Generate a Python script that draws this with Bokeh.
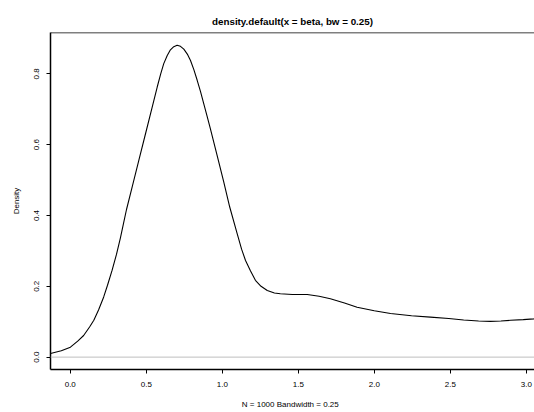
from bokeh.plotting import figure
from bokeh.models import Range1d, FixedTicker, Span
from bokeh.embed import file_html
from bokeh.resources import INLINE

# Density estimate (x, density)
density_x = [-0.130, -0.059, 0.001, 0.049, 0.088, 0.127, 0.155, 0.186, 0.220, 0.245,
             0.275, 0.304, 0.330, 0.350, 0.370, 0.407, 0.451, 0.495, 0.539, 0.572,
             0.595, 0.615, 0.638, 0.659, 0.681, 0.703, 0.725, 0.747, 0.770, 0.791,
             0.813, 0.835, 0.857, 0.878, 0.900, 0.922, 0.966, 1.010, 1.049, 1.098,
             1.127, 1.153, 1.186, 1.218, 1.255, 1.296, 1.343, 1.382, 1.461, 1.559,
             1.637, 1.711, 1.804, 1.887, 2.000, 2.107, 2.245, 2.369, 2.490, 2.588,
             2.686, 2.764, 2.833, 2.896, 2.980, 3.049, 3.070]
density_y = [0.010, 0.018, 0.028, 0.045, 0.061, 0.085, 0.104, 0.133, 0.170, 0.203,
             0.245, 0.290, 0.337, 0.377, 0.417, 0.480, 0.556, 0.631, 0.706, 0.763,
             0.800, 0.829, 0.852, 0.868, 0.877, 0.881, 0.878, 0.870, 0.856, 0.838,
             0.812, 0.782, 0.750, 0.716, 0.681, 0.645, 0.570, 0.494, 0.424, 0.349,
             0.305, 0.273, 0.243, 0.217, 0.200, 0.188, 0.181, 0.179, 0.177, 0.177,
             0.172, 0.165, 0.153, 0.141, 0.131, 0.123, 0.117, 0.113, 0.109, 0.105,
             0.102, 0.101, 0.102, 0.104, 0.106, 0.108, 0.109]

x_tick_vals = [0.0, 0.5, 1.0, 1.5, 2.0, 2.5, 3.0]
x_tick_labels = ["0.0", "0.5", "1.0", "1.5", "2.0", "2.5", "3.0"]
y_tick_vals = [0.0, 0.2, 0.4, 0.6, 0.8]
y_tick_labels = ["0.0", "0.2", "0.4", "0.6", "0.8"]

title_text = "density.default(x = beta, bw = 0.25)"
x_label = "N = 1000   Bandwidth = 0.25"
y_label = "Density"

X_START, X_END = -0.130, 3.054
Y_START, Y_END = -0.035, 0.917

FONT = "Liberation Sans"

p = figure(width=534, height=412, output_backend="svg", toolbar_location=None,
           x_range=Range1d(X_START, X_END), y_range=Range1d(Y_START, Y_END),
           min_border_left=50, min_border_right=0, min_border_top=32,
           min_border_bottom=43)
p.outline_line_color = None
p.xgrid.visible = False
p.ygrid.visible = False
p.background_fill_color = "white"
p.border_fill_color = "white"

p.title.text = title_text
p.title.text_font = FONT
p.title.text_font_size = "9.8px"
p.title.text_font_style = "bold"
p.title.align = "center"
p.title.text_color = "black"
p.title.standoff = 12
p.title.offset = 6

# zero reference line
p.add_layout(Span(location=0, dimension="width", line_color="#BEBEBE", line_width=1))
# top edge of the plot box
p.add_layout(Span(location=Y_END, dimension="width", line_color="black", line_width=1.5))

p.line(density_x, density_y, line_color="black", line_width=1.1)

for ax in (p.xaxis[0], p.yaxis[0]):
    ax.axis_line_color = "black"
    ax.axis_line_width = 1.5
    ax.major_tick_line_color = "black"
    ax.major_tick_line_width = 1
    ax.major_tick_out = 4
    ax.major_tick_in = 0
    ax.minor_tick_line_color = None
    ax.major_label_text_font = FONT
    ax.major_label_text_font_size = "8px"
    ax.major_label_text_color = "black"
    ax.axis_label_text_font = FONT
    ax.axis_label_text_font_size = "8px"
    ax.axis_label_text_font_style = "normal"
    ax.axis_label_text_color = "black"

p.xaxis[0].ticker = FixedTicker(ticks=x_tick_vals)
p.xaxis[0].major_label_overrides = dict(zip(x_tick_vals, x_tick_labels))
p.xaxis[0].axis_label = x_label
p.xaxis[0].major_label_standoff = 8
p.xaxis[0].axis_label_standoff = 10

p.yaxis[0].ticker = FixedTicker(ticks=y_tick_vals)
p.yaxis[0].major_label_overrides = dict(zip(y_tick_vals, y_tick_labels))
p.yaxis[0].major_label_orientation = "vertical"
p.yaxis[0].axis_label = y_label
p.yaxis[0].major_label_standoff = 7
p.yaxis[0].axis_label_standoff = 11

open("out.html", "w").write(file_html(p, INLINE))
